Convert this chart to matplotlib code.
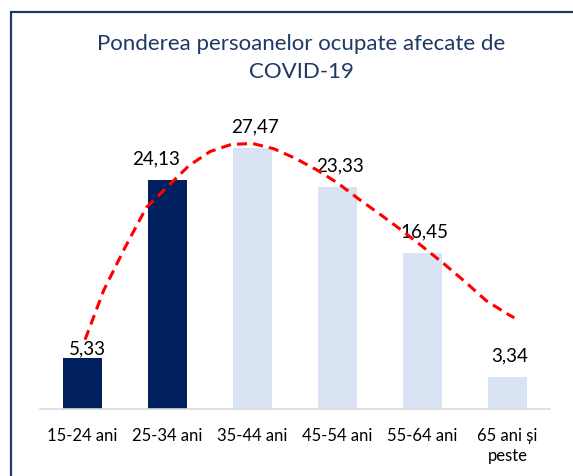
import matplotlib
matplotlib.use("Agg")
import matplotlib.pyplot as plt
from matplotlib.patches import Rectangle

plt.rcParams['font.family'] = ['Lato', 'DejaVu Sans']

# ---- data ----
categories = ["15-24 ani", "25-34 ani", "35-44 ani", "45-54 ani", "55-64 ani", "65 ani și\npeste"]
values = [5.33, 24.13, 27.47, 23.33, 16.45, 3.34]
labels = ["5,33", "24,13", "27,47", "23,33", "16,45", "3,34"]
highlight = [True, True, False, False, False, False]
# trend curve (category position 1..6, value)
trend_x = [1.03, 1.25, 1.5, 1.75, 2.0, 2.25, 2.5, 2.75, 3.0, 3.25, 3.5, 3.75,
           4.0, 4.25, 4.5, 4.75, 5.0, 5.25, 5.5, 5.75, 6.0, 6.08]
trend_y = [7.3, 12.5, 17.0, 21.2, 23.4, 25.6, 27.1, 27.85, 27.95, 27.4, 26.4, 25.2,
           23.8, 22.1, 20.5, 18.85, 17.1, 15.3, 13.4, 11.4, 10.0, 9.6]
title_lines = ["Ponderea persoanelor ocupate afecate de", "COVID-19"]

W, H = 573, 477
fig = plt.figure(figsize=(W / 100, H / 100), dpi=100)
ax = fig.add_axes([40 / W, (H - 410) / H, 510 / W, 285 / H])

dark = "#002060"
light = "#DAE3F3"
colors = [dark if h else light for h in highlight]
xs = list(range(len(values)))
ax.bar(xs, values, width=0.455, color=colors, zorder=2)

ax.set_xlim(-0.5, len(values) - 0.5)
ax.set_ylim(0, 30)

# data labels
offsets = [(3.3, 3.6), (-8.0, 12.0), (1.5, 12.0), (1.5, 12.0), (1.5, 12.0), (1.5, 12.0)]
for x, v, lab, (dx, dy) in zip(xs, values, labels, offsets):
    ax.annotate(lab, xy=(x, v), xytext=(dx, dy), textcoords="offset points",
                ha="center", va="baseline", fontsize=13.5, color="#000000", zorder=3)

# trend line
ax.plot([t - 1 for t in trend_x], trend_y, color="#FF0000", lw=2.2,
        linestyle=(0, (3.3, 2.0)), zorder=4, clip_on=False)

# axes styling
for s in ["top", "right", "left"]:
    ax.spines[s].set_visible(False)
ax.spines["bottom"].set_color("#D9D9D9")
ax.spines["bottom"].set_linewidth(1.2)
ax.set_yticks([])
ax.set_xticks(xs)
ax.set_xticklabels(categories, fontsize=12, color="#000000", linespacing=1.3)
ax.tick_params(axis="x", length=0, pad=13)

# title
fig.text(301 / W, 1 - 50 / H, title_lines[0], ha="center", va="baseline",
         fontsize=16, color="#1F3864")
fig.text(301 / W, 1 - 78 / H, title_lines[1], ha="center", va="baseline",
         fontsize=16, color="#1F3864")

# frame
fig.patches.append(Rectangle((11 / W, -0.1), 1.5, 1 - 13 / H + 0.1,
                             transform=fig.transFigure, fill=False,
                             edgecolor="#1F3864", lw=1.6, zorder=0))

fig.savefig("out.png", dpi=100)
